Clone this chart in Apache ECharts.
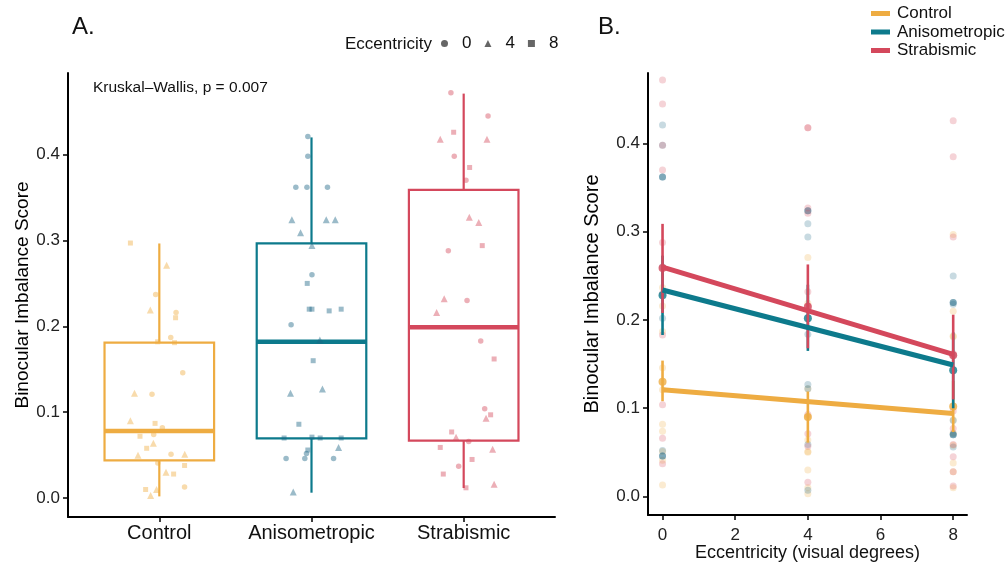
<!DOCTYPE html>
<html>
<head>
<meta charset="utf-8">
<script src="https://cdn.jsdelivr.net/npm/echarts@6/dist/echarts.min.js"></script>
<style>html,body{margin:0;padding:0;background:#fff}#c{width:1008px;height:564px}</style>
</head>
<body>
<div id="c"></div>
<script>
// ---------- data ----------
const categories = ['Control', 'Anisometropic', 'Strabismic'];
const eccLevels = [0, 4, 8];
const eccShapes = ['circle', 'triangle', 'rect'];
const yTicks = [0, 0.1, 0.2, 0.3, 0.4];
const eccTicks = [0, 2, 4, 6, 8];

// [jitter offset from category, score] for each eccentricity
const control0 = [[-0.024,0.237],[0.11,0.216],[0.075,0.187],[0.154,0.146],[-0.048,0.121],[0.02,0.082],[-0.037,0.074],[0.077,0.051],[-0.01,0.041],[0.166,0.013]];
const control4 = [[0.048,0.271],[-0.059,0.219],[-0.163,0.122],[-0.19,0.090],[-0.039,0.064],[-0.14,0.050],[0.167,0.051],[0.044,0.030],[-0.018,0.010],[-0.057,0.003]];
const control8 = [[-0.19,0.297],[0.107,0.210],[-0.011,0.182],[0.10,0.181],[-0.028,0.087],[-0.127,0.072],[-0.083,0.058],[0.166,0.038],[0.094,0.028],[-0.09,0.010]];

const aniso0 = [[-0.024,0.421],[-0.024,0.398],[-0.103,0.362],[-0.03,0.362],[0.105,0.362],[0.003,0.260],[-0.134,0.202],[-0.033,0.052],[-0.167,0.046],[-0.044,0.046],[0.145,0.046]];
const aniso4 = [[-0.129,0.324],[0.097,0.324],[0.156,0.324],[-0.072,0.309],[0.003,0.294],[0.055,0.184],[0.072,0.127],[-0.138,0.122],[0.178,0.059],[-0.12,0.007]];
const aniso8 = [[-0.028,0.250],[-0.015,0.220],[0.003,0.220],[0.116,0.218],[0.195,0.220],[0.011,0.160],[-0.083,0.086],[-0.18,0.070],[0.003,0.071],[0.057,0.070],[0.195,0.070],[-0.024,0.056]];

const strab0 = [[-0.084,0.472],[0.16,0.445],[-0.062,0.398],[0.015,0.370],[-0.101,0.288],[0.022,0.230],[0.112,0.183],[0.138,0.104],[0.033,0.066],[-0.033,0.037]];
const strab4 = [[-0.154,0.418],[0.153,0.418],[0.037,0.327],[0.099,0.321],[-0.128,0.232],[-0.178,0.216],[0.147,0.093],[-0.05,0.071],[0.19,0.057],[0.20,0.016]];
const strab8 = [[-0.066,0.426],[0.039,0.385],[0.122,0.294],[0.20,0.162],[0.177,0.097],[-0.079,0.077],[-0.154,0.059],[0.055,0.045],[-0.134,0.028],[0.015,0.012]];

// box stats: [min, q1, median, q3, max]
const boxControl = [0.002, 0.044, 0.078, 0.181, 0.2965];
const boxAniso = [0.0063, 0.0696, 0.182, 0.2965, 0.420];
const boxStrab = [0.0117, 0.067, 0.199, 0.359, 0.471];

// panel B: means and error bars at eccentricities 0, 4, 8
const meanControl = [0.130, 0.090, 0.102];
const loControl = [0.108, 0.061, 0.073];
const hiControl = [0.154, 0.119, 0.131];
const meanAniso = [0.228, 0.202, 0.143];
const loAniso = [0.183, 0.165, 0.100];
const hiAniso = [0.273, 0.240, 0.186];
const meanStrab = [0.259, 0.215, 0.160];
const loStrab = [0.208, 0.168, 0.110];
const hiStrab = [0.309, 0.263, 0.206];

// fitted lines: value at eccentricity 0 and 8
const fitControl = [0.121, 0.094];
const fitAniso = [0.234, 0.149];
const fitStrab = [0.260, 0.161];

// ---------- styling ----------
const lineColors = ['#EEAC42', '#0D7A8C', '#D4485C'];
const dotColors = ['rgba(238,172,66,', 'rgba(28,101,133,', 'rgba(212,72,92,'];
const FONT = 'Liberation Sans, Arial, Helvetica, sans-serif';

const groups = [
  { pts: [control0, control4, control8], box: boxControl, mean: meanControl, lo: loControl, hi: hiControl, fit: fitControl },
  { pts: [aniso0, aniso4, aniso8], box: boxAniso, mean: meanAniso, lo: loAniso, hi: hiAniso, fit: fitAniso },
  { pts: [strab0, strab4, strab8], box: boxStrab, mean: meanStrab, lo: loStrab, hi: hiStrab, fit: fitStrab }
];

const series = [];

// Panel A boxes
series.push({
  type: 'custom', xAxisIndex: 0, yAxisIndex: 0, z: 2,
  data: groups.map((g, i) => [i].concat(g.box)),
  encode: { x: 0, y: [1, 2, 3, 4, 5] },
  renderItem: function (params, api) {
    const i = api.value(0);
    const color = lineColors[i];
    const hw = 0.36;
    const pMin = api.coord([i, api.value(1)]);
    const pQ1 = api.coord([i, api.value(2)]);
    const pMed = api.coord([i, api.value(3)]);
    const pQ3 = api.coord([i, api.value(4)]);
    const pMax = api.coord([i, api.value(5)]);
    const left = api.coord([i - hw, 0])[0];
    const right = api.coord([i + hw, 0])[0];
    return {
      type: 'group',
      children: [
        { type: 'line', shape: { x1: pMax[0], y1: pMax[1], x2: pQ3[0], y2: pQ3[1] }, style: { stroke: color, lineWidth: 2.2 } },
        { type: 'line', shape: { x1: pQ1[0], y1: pQ1[1], x2: pMin[0], y2: pMin[1] }, style: { stroke: color, lineWidth: 2.2 } },
        { type: 'rect', shape: { x: left, y: pQ3[1], width: right - left, height: pQ1[1] - pQ3[1] }, style: { stroke: color, fill: 'none', lineWidth: 2.2 } },
        { type: 'line', shape: { x1: left, y1: pMed[1], x2: right, y2: pMed[1] }, style: { stroke: color, lineWidth: 4.5 } }
      ]
    };
  }
});

// Panel A jittered points (series named by eccentricity for the shape legend)
groups.forEach((g, gi) => {
  g.pts.forEach((arr, ei) => {
    series.push({
      type: 'scatter', name: String(eccLevels[ei]), xAxisIndex: 0, yAxisIndex: 0, z: 3,
      symbol: eccShapes[ei], symbolSize: ei === 1 ? 7 : (ei === 2 ? 5 : 5.5),
      itemStyle: { color: dotColors[gi] + '0.55)' },
      data: arr.map(p => [gi + p[0], p[1]]),
      silent: true
    });
  });
});

// Panel B raw points
groups.forEach((g, gi) => {
  const data = [];
  g.pts.forEach((arr, ei) => arr.forEach(p => data.push([eccLevels[ei], p[1]])));
  series.push({
    type: 'scatter', name: 'raw' + gi, xAxisIndex: 1, yAxisIndex: 1, z: 1,
    symbol: 'circle', symbolSize: 7,
    itemStyle: { color: dotColors[gi] + '0.3)' },
    data: data, silent: true
  });
});

// Panel B error bars and means
groups.forEach((g, gi) => {
  series.push({
    type: 'custom', name: 'err' + gi, xAxisIndex: 1, yAxisIndex: 1, z: 2 + gi * 0.1,
    data: eccLevels.map((e, k) => [e, g.lo[k], g.hi[k]]),
    encode: { x: 0, y: [1, 2] },
    renderItem: function (params, api) {
      const a = api.coord([api.value(0), api.value(1)]);
      const b = api.coord([api.value(0), api.value(2)]);
      return { type: 'line', shape: { x1: a[0], y1: a[1], x2: b[0], y2: b[1] }, style: { stroke: lineColors[gi], lineWidth: 2.6 } };
    }
  });
  series.push({
    type: 'scatter', name: 'mean' + gi, xAxisIndex: 1, yAxisIndex: 1, z: 2.05 + gi * 0.1,
    symbol: 'circle', symbolSize: 8,
    itemStyle: { color: lineColors[gi] },
    data: eccLevels.map((e, k) => [e, g.mean[k]]), silent: true
  });
});

// Panel B fitted lines
groups.forEach((g, gi) => {
  series.push({
    type: 'line', name: categories[gi], xAxisIndex: 1, yAxisIndex: 1, z: 4,
    data: [[0, g.fit[0]], [8, g.fit[1]]],
    showSymbol: false, symbol: 'none',
    lineStyle: { color: lineColors[gi], width: 5 },
    itemStyle: { color: lineColors[gi] },
    silent: true
  });
});

const axisText = { color: '#222', fontFamily: FONT };

const option = {
  animation: false,
  backgroundColor: '#fff',
  textStyle: { fontFamily: FONT },
  grid: [
    { left: 68, right: 453, top: 73, bottom: 47, containLabel: false, outerBoundsMode: 'none' },
    { left: 648, right: 41, top: 73, bottom: 49, containLabel: false, outerBoundsMode: 'none' }
  ],
  xAxis: [
    {
      type: 'value', gridIndex: 0, min: -0.6, max: 2.6,
      splitLine: { show: false },
      axisLine: { show: true, onZero: false, lineStyle: { color: '#000', width: 2 } },
      axisTick: { show: true, customValues: [0, 1, 2], length: 5, lineStyle: { color: '#000', width: 1.5 } },
      axisLabel: { customValues: [0, 1, 2], formatter: v => categories[Math.round(v)], fontSize: 20, margin: 6, color: '#111', fontFamily: FONT }
    },
    {
      type: 'value', gridIndex: 1, min: -0.4, max: 8.38,
      name: 'Eccentricity (visual degrees)', nameLocation: 'middle', nameGap: 29, nameMoveOverlap: false,
      nameTextStyle: { fontSize: 18, color: '#111', fontFamily: FONT },
      splitLine: { show: false },
      axisLine: { show: true, onZero: false, lineStyle: { color: '#000', width: 2 } },
      axisTick: { show: true, customValues: eccTicks, length: 5, lineStyle: { color: '#000', width: 1.5 } },
      axisLabel: Object.assign({ customValues: eccTicks, fontSize: 17, margin: 12 }, axisText)
    }
  ],
  yAxis: [
    {
      type: 'value', gridIndex: 0, min: -0.022, max: 0.495,
      name: 'Binocular Imbalance Score', nameLocation: 'middle', nameGap: 36, nameRotate: 90,
      nameTextStyle: { fontSize: 19, color: '#000', fontFamily: FONT },
      splitLine: { show: false },
      axisLine: { show: true, onZero: false, lineStyle: { color: '#000', width: 2 } },
      axisTick: { show: true, customValues: yTicks, length: 5, lineStyle: { color: '#000', width: 1.5 } },
      axisLabel: Object.assign({ customValues: yTicks, formatter: v => v.toFixed(1), fontSize: 17, margin: 8 }, axisText)
    },
    {
      type: 'value', gridIndex: 1, min: -0.021, max: 0.48,
      name: 'Binocular Imbalance Score', nameLocation: 'middle', nameGap: 46, nameRotate: 90,
      nameTextStyle: { fontSize: 20, color: '#000', fontFamily: FONT },
      splitLine: { show: false },
      axisLine: { show: true, onZero: false, lineStyle: { color: '#000', width: 2 } },
      axisTick: { show: true, customValues: yTicks, length: 5, lineStyle: { color: '#000', width: 1.5 } },
      axisLabel: Object.assign({ customValues: yTicks, formatter: v => v.toFixed(1), fontSize: 17, margin: 8 }, axisText)
    }
  ],
  legend: [
    {
      orient: 'vertical', left: 871, top: 5, itemGap: 1.5, padding: 0,
      itemWidth: 19, itemHeight: 5, icon: 'rect',
      data: categories,
      textStyle: { fontSize: 17, lineHeight: 17, color: '#111', fontFamily: FONT, padding: [0, 0, 0, 2] },
      selectedMode: false
    },
    {
      orient: 'horizontal', left: 441, top: 35, itemGap: 13, padding: 0,
      itemWidth: 7, itemHeight: 7,
      data: [
        { name: '0', icon: 'circle', itemStyle: { color: '#666', opacity: 1 } },
        { name: '4', icon: 'triangle', itemStyle: { color: '#666', opacity: 1 } },
        { name: '8', icon: 'rect', itemStyle: { color: '#666', opacity: 1 } }
      ],
      textStyle: { fontSize: 17, color: '#111', fontFamily: FONT, padding: [0, 0, 0, 9] },
      selectedMode: false
    }
  ],
  graphic: [
    { type: 'text', left: 72, top: 15, style: { text: 'A.', fontSize: 24, fill: '#111', fontFamily: FONT } },
    { type: 'text', left: 598, top: 15, style: { text: 'B.', fontSize: 24, fill: '#111', fontFamily: FONT } },
    { type: 'text', left: 345, top: 36, style: { text: 'Eccentricity', fontSize: 17, fill: '#111', fontFamily: FONT } },
    { type: 'text', left: 93, top: 80, style: { text: 'Kruskal–Wallis, p = 0.007', fontSize: 15.5, fill: '#111', fontFamily: FONT } }
  ],
  series: series
};

const chart = echarts.init(document.getElementById('c'));
chart.setOption(option);
</script>
</body>
</html>
